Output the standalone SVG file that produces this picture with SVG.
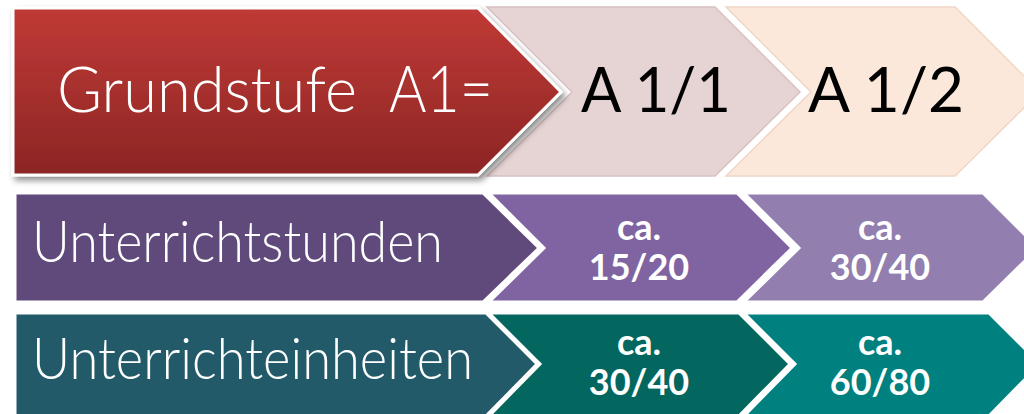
<svg xmlns="http://www.w3.org/2000/svg" width="1024" height="414" viewBox="0 0 1024 414">
<style>
.lbl{font-family:"Lato","Open Sans","DejaVu Sans",sans-serif;font-weight:300}
.w{fill:#ffffff}
.k{fill:#000000;font-weight:400}
.num{font-family:"Lato","DejaVu Sans",sans-serif;font-weight:700;fill:#ffffff;text-anchor:middle;font-size:36px}
.sep{stroke:#ffffff;stroke-width:3;stroke-linejoin:miter}
</style>
<defs>
<linearGradient id="red" x1="0" y1="0" x2="0" y2="1">
<stop offset="0" stop-color="#C03A35"/>
<stop offset="1" stop-color="#8C2525"/>
</linearGradient>
<filter id="sh" x="-5%" y="-5%" width="115%" height="125%">
<feGaussianBlur in="SourceAlpha" stdDeviation="3"/>
<feOffset dx="3" dy="4" result="b"/>
<feComponentTransfer><feFuncA type="linear" slope="0.45"/></feComponentTransfer>
<feMerge><feMergeNode/><feMergeNode in="SourceGraphic"/></feMerge>
</filter>
</defs>
<rect width="1024" height="414" fill="#ffffff"/>
<g id="row1-a12">
<polygon points="726,7 955,7 1040,92 955,176 726,176 811,92" fill="#FBE8DA" stroke="#EFD6C6" stroke-width="1.5"/>
<text class="lbl k" x="808" y="112" font-size="62" textLength="156" lengthAdjust="spacingAndGlyphs">A 1/2</text>
</g>
<g id="row1-a11">
<polygon points="487,7 715,7 800,92 715,176 487,176 572,92" fill="#E6D3D3" stroke="#D9C1C2" stroke-width="1.5"/>
<text class="lbl k" x="581" y="112" font-size="62" textLength="150" lengthAdjust="spacingAndGlyphs">A 1/1</text>
</g>
<g id="row1-grundstufe">
<polygon points="13,8 478,8 561,92 478,175 13,175" fill="url(#red)" class="sep" filter="url(#sh)"/>
<text class="lbl w" y="112" font-size="64"><tspan x="57" textLength="300" lengthAdjust="spacingAndGlyphs">Grundstufe</tspan><tspan x="389" font-size="66" textLength="104" lengthAdjust="spacingAndGlyphs">A1=</tspan></text>
</g>
<g id="row2-right">
<polygon points="744,193 983,193 1038,248 983,302 744,302 799,248" fill="#927FAF" class="sep"/>
<text class="num" x="880" y="240">ca.</text>
<text class="num" x="880" y="280">30/40</text>
</g>
<g id="row2-mid">
<polygon points="489,193 737,193 792,248 737,302 489,302 544,248" fill="#8064A2" class="sep"/>
<text class="num" x="639" y="240">ca.</text>
<text class="num" x="639" y="280">15/20</text>
</g>
<g id="row2-left">
<polygon points="15,193 483,193 539,248 483,302 15,302" fill="#604A7B" class="sep"/>
<text class="lbl w" x="32" y="262" font-size="58" textLength="411" lengthAdjust="spacingAndGlyphs">Unterrichtstunden</text>
</g>
<g id="row3-right">
<polygon points="744,313 989,313 1040,364 989,416 744,416 795,364" fill="#008180" class="sep"/>
<text class="num" x="880" y="355">ca.</text>
<text class="num" x="880" y="395">60/80</text>
</g>
<g id="row3-mid">
<polygon points="489,313 739,313 790,364 739,416 489,416 540,364" fill="#03675F" class="sep"/>
<text class="num" x="639" y="355">ca.</text>
<text class="num" x="639" y="395">30/40</text>
</g>
<g id="row3-left">
<polygon points="15,313 486,313 537,364 486,416 15,416" fill="#225A69" class="sep"/>
<text class="lbl w" x="32" y="379" font-size="58" textLength="441" lengthAdjust="spacingAndGlyphs">Unterrichteinheiten</text>
</g>
</svg>
